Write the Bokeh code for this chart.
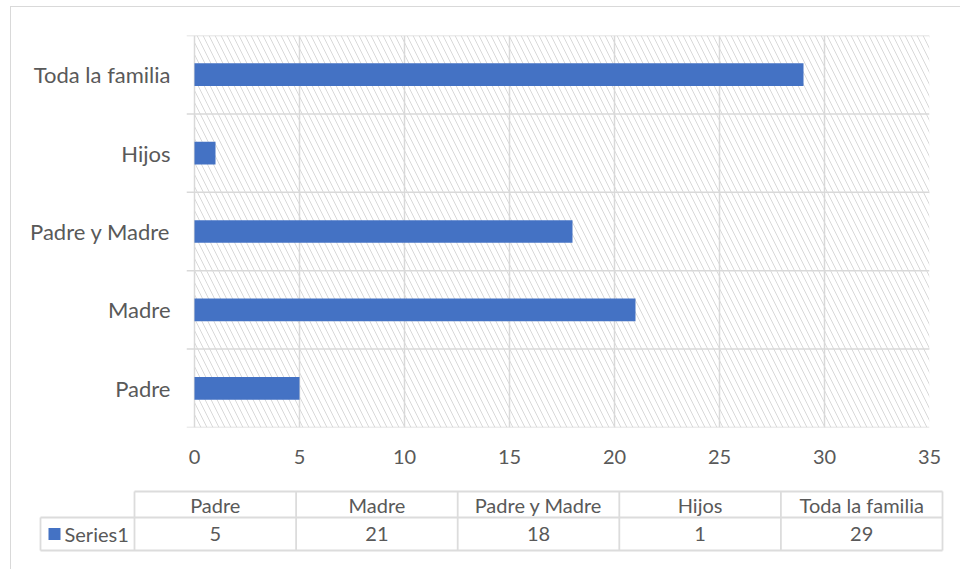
from bokeh.plotting import figure
from bokeh.models import BoxAnnotation, FixedTicker, Range1d, FactorRange
from bokeh.core.properties import value
from bokeh.embed import file_html
from bokeh.resources import INLINE

# ---- data ----
categories = ["Padre", "Madre", "Padre y Madre", "Hijos", "Toda la familia"]
values = [5, 21, 18, 1, 29]
x_ticks = [0, 5, 10, 15, 20, 25, 30, 35]
series_name = "Series1"

# ---- styles ----
BAR = "#4472c4"
GRID = "#d9d9d9"
TXT = "#595959"
FONT = "Lato"
W = 950
PX_PER_UNIT = 21.0
TICK_EXT = 8  # px the category boundary lines reach left of zero
BORDER = "1px solid #d9d9d9"

x_start = -TICK_EXT / PX_PER_UNIT
x_end = x_ticks[-1]

p = figure(width=W, height=473, output_backend="svg", toolbar_location=None,
           x_range=Range1d(x_start, x_end),
           y_range=FactorRange(factors=categories, range_padding=0),
           min_border_left=175, min_border_right=W - 918, min_border_top=28,
           min_border_bottom=53)
p.styles = {"border-left": BORDER, "border-top": BORDER,
            "margin-left": "10px", "margin-top": "6px"}
p.outline_line_color = None
p.background_fill_color = "white"
p.border_fill_color = "white"

hatch = BoxAnnotation(left=0, fill_alpha=0, line_color=None,
                      hatch_pattern="\\", hatch_color=GRID, hatch_scale=12,
                      hatch_weight=1, level="underlay")
p.add_layout(hatch)

p.xgrid.ticker = FixedTicker(ticks=x_ticks)
p.xgrid.grid_line_color = GRID
p.xgrid.grid_line_width = 1.5
p.ygrid.grid_line_color = None

bounds = list(range(len(categories) + 1))
p.segment(x0=[x_start] * len(bounds), x1=[x_end] * len(bounds), y0=bounds, y1=bounds,
          line_color=GRID, line_width=1.5)

p.hbar(y=categories, right=values, left=0, height=0.29, color=BAR, line_color=None)

p.xaxis.ticker = FixedTicker(ticks=x_ticks)
for ax in (p.xaxis[0], p.yaxis[0]):
    ax.axis_line_color = None
    ax.major_tick_line_color = None
    ax.minor_tick_line_color = None
    ax.major_tick_out = 0
    ax.major_tick_in = 0
    ax.major_label_text_font = FONT
    ax.major_label_text_color = TXT
p.xaxis.major_label_text_font_size = "20px"
p.yaxis.major_label_text_font_size = "22px"
p.xaxis.major_label_standoff = 22
p.yaxis.major_label_standoff = 16

# ---- data table ----
TH = 90
t = figure(width=W, height=TH, output_backend="svg", toolbar_location=None,
           x_range=Range1d(0, W), y_range=Range1d(TH, 0),
           min_border=0)
t.styles = {"border-left": BORDER, "margin-left": "10px"}
t.outline_line_color = None
t.axis.visible = False
t.grid.visible = False
t.border_fill_color = "white"
t.background_fill_color = "white"

COL0 = 123.0
COLW = 161.6
n = len(categories)
Y_TOP, Y_MID, Y_BOT = 12, 38, 71
LEFT0 = 29
col_edges = [COL0 + i * COLW for i in range(n + 1)]

seg_x0 = [COL0, LEFT0, LEFT0, LEFT0] + col_edges
seg_x1 = [col_edges[-1], col_edges[-1], col_edges[-1], LEFT0] + col_edges
seg_y0 = [Y_TOP, Y_MID, Y_BOT, Y_MID] + [Y_TOP] * (n + 1)
seg_y1 = [Y_TOP, Y_MID, Y_BOT, Y_BOT] + [Y_BOT] * (n + 1)
t.segment(x0=seg_x0, x1=seg_x1, y0=seg_y0, y1=seg_y1, line_color="#dcdcdc", line_width=1.8)

centers = [COL0 + (i + 0.5) * COLW for i in range(n)]
t.text(x=centers, y=[(Y_TOP + Y_MID) / 2] * n, text=categories,
       text_align="center", text_baseline="middle", text_font=value(FONT),
       text_font_size="20px", text_color=TXT)
t.text(x=centers, y=[(Y_MID + Y_BOT) / 2] * n, text=[str(v) for v in values],
       text_align="center", text_baseline="middle", text_font=value(FONT),
       text_font_size="20px", text_color=TXT)
t.rect(x=[43], y=[(Y_MID + Y_BOT) / 2], width=12, height=12, color=BAR, line_color=None)
t.text(x=[53], y=[(Y_MID + Y_BOT) / 2], text=[series_name],
       text_align="left", text_baseline="middle", text_font=value(FONT),
       text_font_size="20px", text_color=TXT)

open("out.html", "w").write(file_html([p, t], INLINE))
